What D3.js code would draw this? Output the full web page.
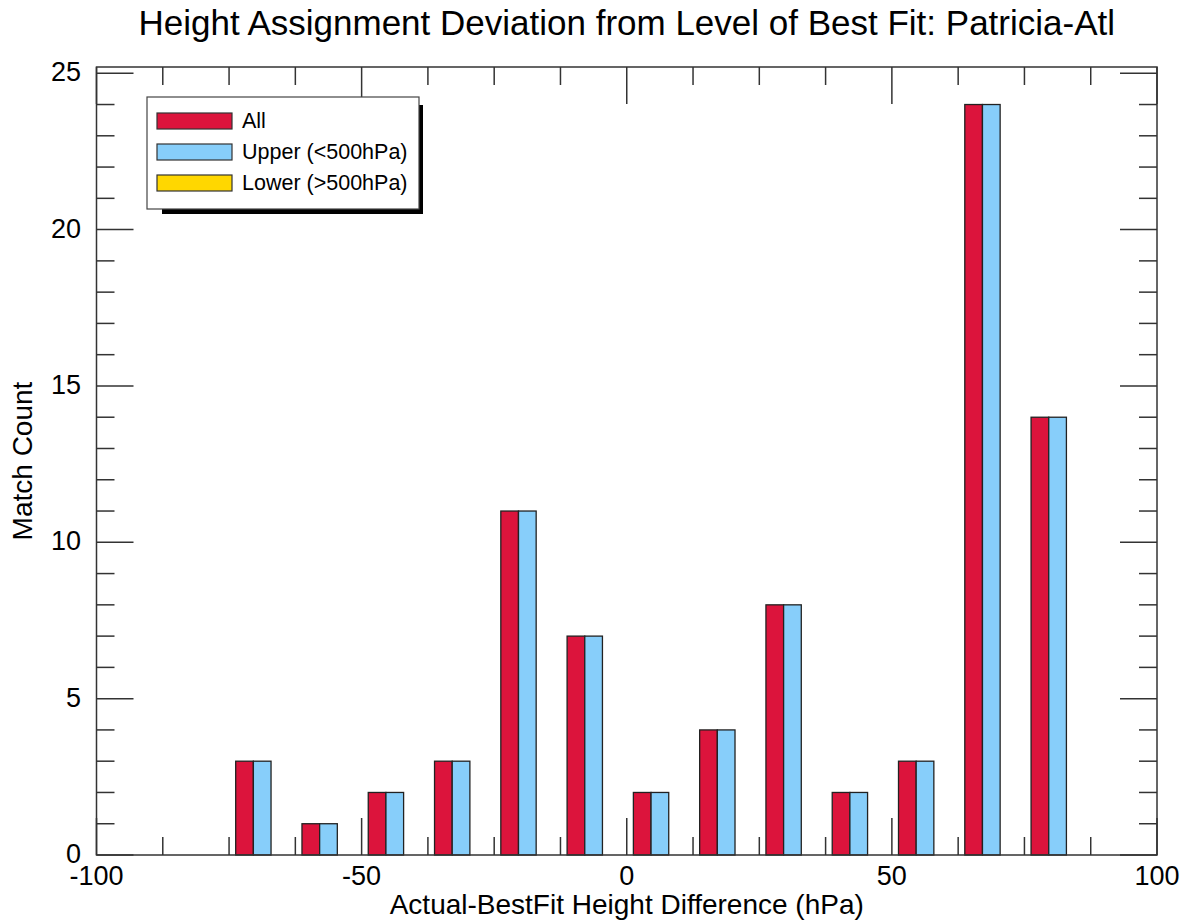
<!DOCTYPE html>
<html>
<head>
<meta charset="utf-8">
<script src="https://cdn.jsdelivr.net/npm/d3@7"></script>
<style>
  body { margin: 0; background: #fff; }
  text { font-family: "Liberation Sans", Arial, Helvetica, sans-serif; fill: #000; }
</style>
</head>
<body>
<div id="chart"></div>
<script>
// bin centres (hPa), 12.5 hPa wide bins
var binCenters = [-68.75, -56.25, -43.75, -31.25, -18.75, -6.25, 6.25, 18.75, 31.25, 43.75, 56.25, 68.75, 81.25];
var allCounts   = [3, 1, 2, 3, 11, 7, 2, 4, 8, 2, 3, 24, 14];
var upperCounts = [3, 1, 2, 3, 11, 7, 2, 4, 8, 2, 3, 24, 14];
var lowerCounts = [0, 0, 0, 0, 0, 0, 0, 0, 0, 0, 0, 0, 0];
var seriesNames = ["All", "Upper (<500hPa)", "Lower (>500hPa)"];
var seriesColors = ["#DC143C", "#87CEFA", "#FFD700"];
var xMajorTicks = [-100, -50, 0, 50, 100];
var yMajorTicks = [0, 5, 10, 15, 20, 25];

var width = 1188, height = 923;
var plotL = 96.5, plotR = 1157, plotT = 67, plotB = 855;

var svg = d3.select("#chart").append("svg")
    .attr("width", width)
    .attr("height", height);

var x = d3.scaleLinear().domain([-100, 100]).range([plotL, plotR]);
var y = d3.scaleLinear().domain([0, 25.2]).range([plotB, plotT]);

// sub-band for the three series inside each bin
var sub = d3.scaleBand().domain(seriesNames).range([-5, 5]);

var series = [allCounts, upperCounts, lowerCounts];
var bars = [];
series.forEach(function(vals, si) {
    vals.forEach(function(v, i) {
        if (v > 0) bars.push({ s: si, c: binCenters[i], v: v });
    });
});

svg.append("g").selectAll("rect")
    .data(bars)
    .enter().append("rect")
    .attr("x", function(d) { return x(d.c + sub(seriesNames[d.s])); })
    .attr("width", function(d) { return x(d.c + sub(seriesNames[d.s]) + sub.bandwidth()) - x(d.c + sub(seriesNames[d.s])); })
    .attr("y", function(d) { return y(d.v); })
    .attr("height", function(d) { return y(0) - y(d.v); })
    .attr("fill", function(d) { return seriesColors[d.s]; })
    .attr("stroke", "#222")
    .attr("stroke-width", 1.3);

// ticks, all pointing inward
var ticks = svg.append("g").attr("stroke", "#333").attr("stroke-width", 1.5);
var xMinor = d3.range(-100, 100.01, 12.5);
xMinor.forEach(function(v) {
    var len = xMajorTicks.indexOf(v) >= 0 ? 37 : 18;
    ticks.append("line").attr("x1", x(v)).attr("x2", x(v)).attr("y1", plotB).attr("y2", plotB - len);
    ticks.append("line").attr("x1", x(v)).attr("x2", x(v)).attr("y1", plotT).attr("y2", plotT + len);
});
var yMinor = d3.range(0, 26, 1);
yMinor.forEach(function(v) {
    var len = yMajorTicks.indexOf(v) >= 0 ? 37 : 18;
    ticks.append("line").attr("y1", y(v)).attr("y2", y(v)).attr("x1", plotL).attr("x2", plotL + len);
    ticks.append("line").attr("y1", y(v)).attr("y2", y(v)).attr("x1", plotR).attr("x2", plotR - len);
});

// frame
svg.append("rect")
    .attr("x", plotL).attr("y", plotT)
    .attr("width", plotR - plotL).attr("height", plotB - plotT)
    .attr("fill", "none").attr("stroke", "#333").attr("stroke-width", 1.5);

// tick labels
svg.append("g").selectAll("text")
    .data(xMajorTicks)
    .enter().append("text")
    .attr("x", function(d) { return x(d); })
    .attr("y", 885)
    .attr("text-anchor", "middle")
    .style("font-size", "27px")
    .text(function(d) { return d; });

svg.append("g").selectAll("text")
    .data(yMajorTicks)
    .enter().append("text")
    .attr("x", 81)
    .attr("y", function(d) { return y(d) + 8; })
    .attr("text-anchor", "end")
    .style("font-size", "27px")
    .text(function(d) { return d; });

// titles
svg.append("text")
    .attr("x", (plotL + plotR) / 2).attr("y", 35)
    .attr("text-anchor", "middle")
    .style("font-size", "35px")
    .text("Height Assignment Deviation from Level of Best Fit: Patricia-Atl");

svg.append("text")
    .attr("x", (plotL + plotR) / 2).attr("y", 914)
    .attr("text-anchor", "middle")
    .style("font-size", "28px")
    .text("Actual-BestFit Height Difference (hPa)");

svg.append("text")
    .attr("transform", "translate(32," + ((plotT + plotB) / 2) + ") rotate(-90)")
    .attr("text-anchor", "middle")
    .style("font-size", "28px")
    .text("Match Count");

// legend
var lg = svg.append("g").attr("transform", "translate(147,97)");
lg.append("rect")
    .attr("x", 15).attr("y", 8).attr("width", 261).attr("height", 109)
    .attr("fill", "#000");
lg.append("rect")
    .attr("x", 0).attr("y", 0).attr("width", 272).attr("height", 112)
    .attr("fill", "#fff").attr("stroke", "#444").attr("stroke-width", 1.2);
var items = lg.selectAll("g.item")
    .data(seriesNames)
    .enter().append("g")
    .attr("class", "item")
    .attr("transform", function(d, i) { return "translate(10," + (16 + i * 31) + ")"; });
items.append("rect")
    .attr("width", 75).attr("height", 16)
    .attr("fill", function(d, i) { return seriesColors[i]; })
    .attr("stroke", "#333").attr("stroke-width", 1.2);
items.append("text")
    .attr("x", 85).attr("y", 15)
    .style("font-size", "21.5px")
    .text(function(d) { return d; });
</script>
</body>
</html>
